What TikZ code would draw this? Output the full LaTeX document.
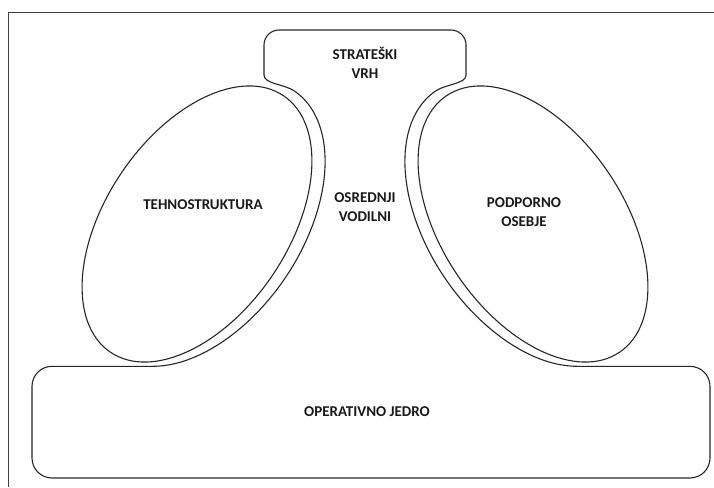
\documentclass[tikz,border=0pt]{standalone}
\usepackage{fontspec}
\setmainfont{Carlito}
\begin{document}
\begin{tikzpicture}[x=1pt,y=1pt,
  shapeline/.style={line width=1.1pt, draw=black!85},
  lbl/.style={font=\bfseries\fontsize{15}{19}\selectfont, align=center, text=black!90, inner sep=0pt}]
\useasboundingbox (0,0) rectangle (714,487);
% frame
\draw[line width=1pt, black!75] (714,474) -- (8,474) -- (8,0);
\coordinate (cl) at (32,0);
\coordinate (cr) at (710,0);
% ellipses and middle line outline (left, then mirrored right)
\foreach \s/\sh/\nm in {1/0/L, -1/730/R}{
  \begin{scope}[xshift=\sh pt, xscale=\s]
    \draw[shapeline, rotate around={56:(197,263)}] (197,263) ellipse [x radius=154.7, y radius=91.25];
    \begin{scope}[shift={(204.8,263.8)}, rotate=56]
      \draw[shapeline] (202.33:159.7 and 97.25) coordinate (low\nm)
        arc[start angle=202.33, end angle=360, x radius=159.7, y radius=97.25] coordinate (top\nm);
    \end{scope}
    \draw[shapeline] (top\nm) .. controls +(146:12) and (264,403) .. (264,412);
  \end{scope}
}
% strategic apex
\draw[shapeline, rounded corners=15pt] (264,412) -- (264,457) -- (466,457) -- (466,412);
% operating core
\draw[shapeline, rounded corners=20pt] (lowL) -- (lowL -| cl) -- (32,9) -- (710,9) -- (lowR -| cr) -- (lowR);
% labels
\node[lbl] (apex) at (365,424.5) {STRATEŠKI\\VRH};
\node[lbl] (techno) at (203,282) {TEHNOSTRUKTURA};
\node[lbl] (middle) at (365,279.5) {OSREDNJI\\VODILNI};
\node[lbl] (support) at (524,274.5) {PODPORNO\\OSEBJE};
\node[lbl] (core) at (367,75) {OPERATIVNO JEDRO};
\end{tikzpicture}
\end{document}
